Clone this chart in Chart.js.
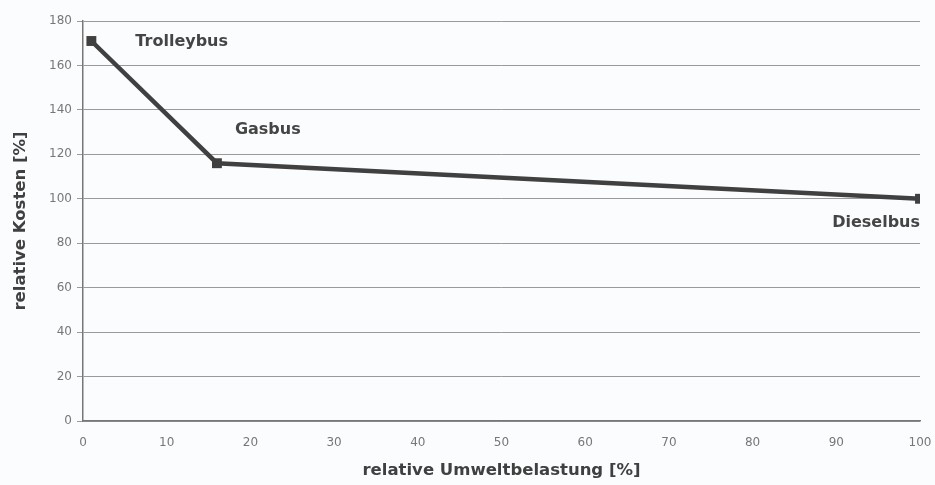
<!DOCTYPE html>
<html>
<head>
<meta charset="utf-8">
<script src="https://cdn.jsdelivr.net/npm/chart.js@4/dist/chart.umd.min.js"></script>
<style>
  html, body { margin:0; padding:0; background:#fbfcfe; }
  #wrap { width:935px; height:485px; position:relative; }
</style>
</head>
<body>
<div id="wrap"><canvas id="c"></canvas></div>
<script>
// data
const busTypes   = ['Trolleybus', 'Gasbus', 'Dieselbus'];
const umwelt     = [1, 16, 100];      // relative Umweltbelastung [%]
const kosten     = [171, 116, 100];   // relative Kosten [%]
const xTicks     = [0, 10, 20, 30, 40, 50, 60, 70, 80, 90, 100];
const yTicks     = [0, 20, 40, 60, 80, 100, 120, 140, 160, 180];

// label offsets from each point (px)
const labelOffsets = [
  { dx: 44, dy: 1, align: 'left' },
  { dx: 18, dy: -33, align: 'left' },
  { dx: 0, dy: 24, align: 'right' },
];

const pointLabels = {
  id: 'pointLabels',
  afterDatasetsDraw(chart) {
    const { ctx, scales: { x, y } } = chart;
    ctx.save();
    ctx.font = 'bold 16px "DejaVu Sans", Verdana, sans-serif';
    ctx.fillStyle = '#454545';
    ctx.textBaseline = 'middle';
    busTypes.forEach((name, i) => {
      const o = labelOffsets[i];
      ctx.textAlign = o.align;
      ctx.fillText(name, x.getPixelForValue(umwelt[i]) + o.dx, y.getPixelForValue(kosten[i]) + o.dy);
    });
    ctx.restore();
  }
};

const tickFont = { family: '"DejaVu Sans", Verdana, sans-serif', size: 12 };
const titleFont = { family: '"DejaVu Sans", Verdana, sans-serif', size: 16.5, weight: 'bold' };

new Chart(document.getElementById('c'), {
  type: 'line',
  data: {
    datasets: [{
      data: umwelt.map((v, i) => ({ x: v, y: kosten[i] })),
      borderColor: '#404040', backgroundColor: '#404040',
      borderWidth: 4.5, pointStyle: 'rect', pointRadius: 7,
      pointBorderWidth: 0, tension: 0,
    }],
  },
  options: {
    responsive: true, maintainAspectRatio: false, animation: false,
    layout: { padding: { left: 7, right: 15, top: 21, bottom: 0 } },
    plugins: { legend: { display: false }, tooltip: { enabled: false } },
    scales: {
      x: {
        type: 'linear', min: 0, max: 100,
        afterBuildTicks: s => { s.ticks = xTicks.map(v => ({ value: v })); },
        afterFit: s => { s.height = 64; s.paddingLeft = 0; s.paddingRight = 0; },
        grid: { display: false, drawOnChartArea: false },
        border: { color: '#777', width: 1.5 },
        ticks: { color: '#777', font: tickFont, padding: 7 },
        title: { display: true, text: 'relative Umweltbelastung [%]', color: '#404040', font: titleFont, padding: { top: 7 } },
      },
      y: {
        min: 0, max: 180,
        afterBuildTicks: s => { s.ticks = yTicks.map(v => ({ value: v })); },
        afterFit: s => { s.width = 76; },
        grid: { color: '#9a9a9a', lineWidth: 1, tickLength: 6, drawTicks: true },
        border: { color: '#777', width: 1.5 },
        ticks: { color: '#777', font: tickFont, padding: 5 },
        title: { display: true, text: 'relative Kosten [%]', color: '#404040', font: titleFont, padding: { bottom: 4 } },
      },
    },
  },
  plugins: [pointLabels],
});
</script>
</body>
</html>
